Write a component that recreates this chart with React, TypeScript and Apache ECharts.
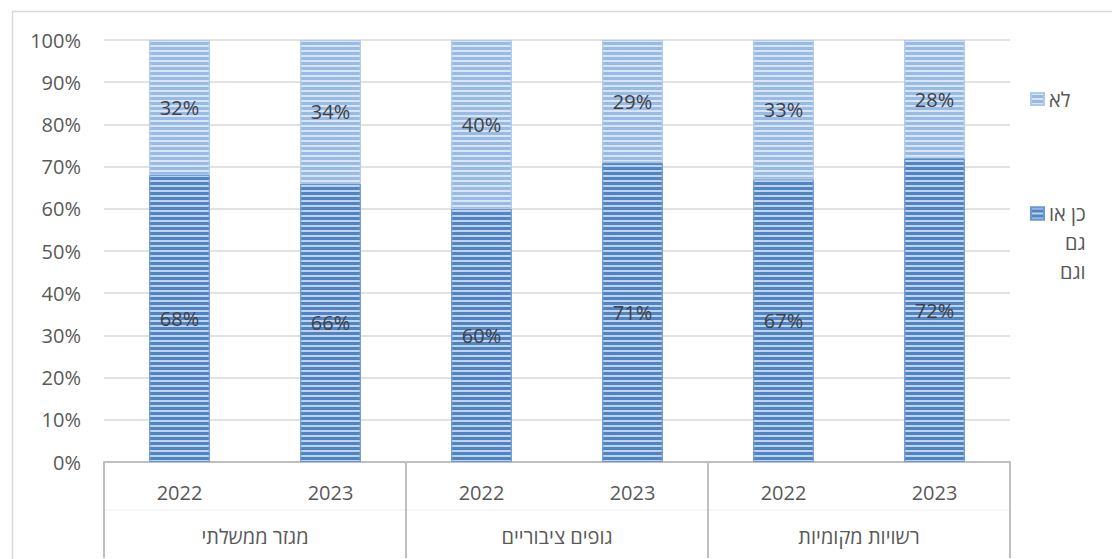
import React, { useEffect, useRef } from "react";
import * as echarts from "echarts";

const years = ["2022", "2023", "2022", "2023", "2022", "2023"];
const groups = ["מגזר ממשלתי", "גופים ציבוריים", "רשויות מקומיות"];
const yesValues = [0.68, 0.66, 0.6, 0.71, 0.67, 0.72];
const noValues = [0.32, 0.34, 0.4, 0.29, 0.33, 0.28];
const yesName = "כן או גם וגם";
const noName = "לא";

const FONT = "'Open Sans', 'Noto Sans', sans-serif";
const FS = 20;

export default function App() {
  const ref = useRef<HTMLDivElement>(null);
  useEffect(() => {
    if (!ref.current) return;
    const chart = echarts.init(ref.current, null, { renderer: "svg" });
    const pct = (p: any) => Math.round(p.value * 100) + "%";
    chart.setOption({
      animation: false,
      textStyle: { fontFamily: FONT },
      grid: { left: 104, right: 102, top: 40, bottom: 97 },
      graphic: [
        {
          type: "rect",
          left: 10,
          top: 9,
          shape: { x: 0, y: 0, width: 1200, height: 700 },
          style: { fill: "none", stroke: "#d9d9d9", lineWidth: 1.5 },
          z: -10,
          silent: true,
        },
        {
          type: "line",
          shape: { x1: 104, y1: 510, x2: 1010, y2: 510 },
          style: { stroke: "#eeeeee", lineWidth: 1 },
          z: -5,
          silent: true,
        },
      ],
      legend: [
        {
          data: [noName],
          orient: "vertical",
          left: 1030,
          top: 87,
          padding: 0,
          itemWidth: 13,
          itemHeight: 12,
          icon: "rect",
          itemGap: 0,
          textStyle: { fontSize: FS, color: "#595959", fontFamily: FONT, lineHeight: 24 },
        },
        {
          data: [yesName],
          orient: "vertical",
          left: 1030,
          top: 141,
          padding: 0,
          itemWidth: 13,
          itemHeight: 12,
          icon: "rect",
          formatter: () => "{r|כן או}\n{r|גם}\n{r|וגם}",
          textStyle: {
            fontSize: FS,
            color: "#595959",
            fontFamily: FONT,
            lineHeight: 29,
            padding: [58, 0, 0, 0],
            rich: {
              r: { align: "right", fontSize: FS, color: "#595959", fontFamily: FONT, lineHeight: 29 },
            },
          },
        },
      ],
      xAxis: [
        {
          type: "category",
          data: years,
          position: "bottom",
          axisLine: { show: true, lineStyle: { color: "#bfbfbf", width: 2 } },
          axisTick: { show: false },
          axisLabel: { interval: 0, margin: 20, fontSize: FS, color: "#595959", fontFamily: FONT },
        },
        {
          type: "category",
          data: groups,
          position: "bottom",
          axisLine: { show: false },
          axisTick: { show: true, length: 96, interval: 0, lineStyle: { color: "#bfbfbf", width: 2 } },
          axisLabel: { interval: 0, margin: 64, fontSize: FS, color: "#595959", fontFamily: FONT },
        },
      ],
      yAxis: {
        type: "value",
        min: 0,
        max: 1,
        interval: 0.1,
        axisLine: { show: false },
        axisTick: { show: false },
        splitLine: { lineStyle: { color: "#d9d9d9", width: 1.5 } },
        axisLabel: {
          margin: 23,
          fontSize: FS,
          color: "#595959",
          fontFamily: FONT,
          formatter: (v: number) => Math.round(v * 100) + "%",
        },
      },
      series: [
        {
          name: yesName,
          type: "bar",
          stack: "total",
          barWidth: "40%",
          data: yesValues,
          itemStyle: {
            color: "#5184c3",
            borderColor: "#6a97cf",
            borderWidth: 1,
            decal: {
              symbol: "rect",
              symbolSize: 1,
              dashArrayX: [1, 0],
              dashArrayY: [2, 3],
              rotation: 0,
              color: "#bfd3ec",
            },
          },
          label: {
            show: true,
            position: "inside",
            formatter: pct,
            fontSize: FS,
            color: "#404040",
            fontFamily: FONT,
          },
        },
        {
          name: noName,
          type: "bar",
          stack: "total",
          barWidth: "40%",
          data: noValues,
          itemStyle: {
            color: "#98bbe6",
            borderColor: "#adc9ec",
            borderWidth: 1,
            decal: {
              symbol: "rect",
              symbolSize: 1,
              dashArrayX: [1, 0],
              dashArrayY: [2, 3],
              rotation: 0,
              color: "#d9e5f5",
            },
          },
          label: {
            show: true,
            position: "inside",
            formatter: pct,
            fontSize: FS,
            color: "#404040",
            fontFamily: FONT,
          },
        },
      ],
    });
    return () => chart.dispose();
  }, []);
  return (
    <div
      ref={ref}
      style={{ position: "absolute", left: 0, top: 0, width: 1112, height: 559, background: "#ffffff" }}
    />
  );
}
